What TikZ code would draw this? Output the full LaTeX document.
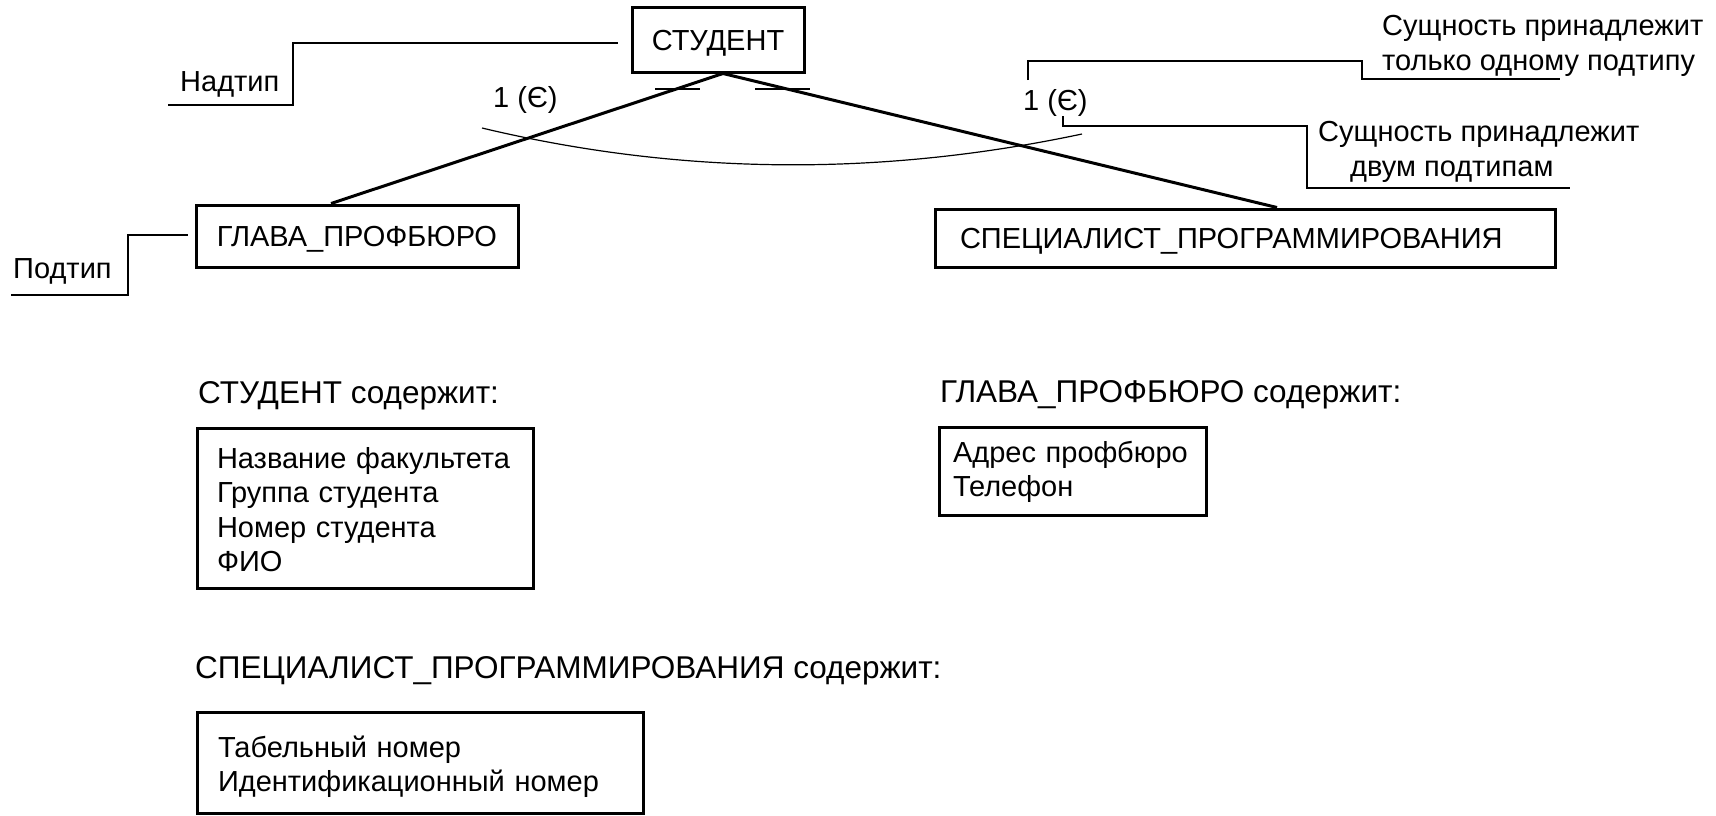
\documentclass[tikz,border=0pt]{standalone}
\usepackage{fontspec}
\setmainfont{Liberation Sans}
\usetikzlibrary{calc}
\begin{document}
\begin{tikzpicture}[x=1pt,y=-1pt,
  every node/.style={inner sep=0pt, font=\fontsize{29}{34.5}\selectfont},
  ent/.style={draw, line width=3pt, text height=21pt, text depth=0pt},
  attr/.style={draw, line width=3pt, anchor=north west, outer sep=0pt, inner ysep=0pt, align=left},
  lbl/.style={anchor=base west},
  heading/.style={anchor=base west, font=\fontsize{31.5}{36}\selectfont},
  callout/.style={line width=1.2pt},
  relline/.style={line width=3pt}
]
\fill[white] (0,0) rectangle (1716,815);
\useasboundingbox (0,0) rectangle (1716,815);

% entity boxes
\node[ent, minimum width=172pt, minimum height=65pt] (student) at (718,39.5) {СТУДЕНТ};
\node[ent, minimum width=322pt, minimum height=62pt] (glava) at (357,236) {ГЛАВА\_ПРОФБЮРО};
\node[ent, minimum height=58pt, text width=570pt, inner xsep=25pt, align=left] (spec) at (1245,238) {\mbox{СПЕЦИАЛИСТ\_ПРОГРАММИРОВАНИЯ}};

% relationship lines
\coordinate (apex) at ($(student.south)+(5,0)$);
\coordinate (glavatop) at ($(glava.north)+(-26,0)$);
\coordinate (spectop) at ($(spec.north)+(32,0)$);
\draw[relline] (apex) -- (glavatop);
\draw[relline] (apex) -- (spectop);

% ticks and arc
\draw[callout] (655,89) -- (700,89);
\draw[callout] (755,89) -- (810,89);
\draw[callout] (482,128) .. controls (679,175) and (879,177) .. (1082,134);

% cardinality labels
\node[lbl] (card1) at (493,107) {1 (Є)};
\node[lbl] (card2) at (1023,110) {1 (Є)};

% callouts
\node[lbl] (nadtip) at (180,91) {Надтип};
\coordinate (n1) at (168,105);
\coordinate (n2) at (618,43);
\draw[callout] (n1) -- (293,105) -- (293,43) -- (n2);

\node[lbl] (podtip) at (13,278) {Подтип};
\coordinate (p1) at (11,295);
\coordinate (p2) at (188,235);
\draw[callout] (p1) -- (128,295) -- (128,235) -- (p2);

\node[lbl] (one1) at (1382,35) {Сущность принадлежит};
\node[lbl] (one2) at (1382,70) {только одному подтипу};
\coordinate (o1) at (1028,80);
\coordinate (o2) at (1560,79);
\draw[callout] (o1) -- (1028,61) -- (1362,61) -- (1362,79) -- (o2);

\node[lbl] (two1) at (1318,141) {Сущность принадлежит};
\node[lbl] (two2) at (1350,176) {двум подтипам};
\coordinate (t1) at (1063,116);
\coordinate (t2) at (1570,188);
\draw[callout] (t1) -- (1063,126) -- (1307,126) -- (1307,188) -- (t2);

% attribute headings
\node[heading] (h1) at (198,403) {СТУДЕНТ содержит:};
\node[heading] (h2) at (940,402) {ГЛАВА\_ПРОФБЮРО содержит:};
\node[heading] (h3) at (195,678) {СПЕЦИАЛИСТ\_ПРОГРАММИРОВАНИЯ содержит:};

% attribute boxes
\node[attr, inner xsep=20pt, text width=296pt, text height=40pt, text depth=120pt] (a1) at (197,428)
  {\mbox{Название факультета}\\\mbox{Группа студента}\\\mbox{Номер студента}\\\mbox{ФИО}};
\node[attr, inner xsep=14pt, text width=239pt, text height=35pt, text depth=53pt] (a2) at (939,427)
  {\mbox{Адрес профбюро}\\\mbox{Телефон}};
\node[attr, inner xsep=21pt, text width=404pt, text height=45pt, text depth=56pt] (a3) at (197,712)
  {\mbox{Табельный номер}\\\mbox{Идентификационный номер}};
\end{tikzpicture}
\end{document}
